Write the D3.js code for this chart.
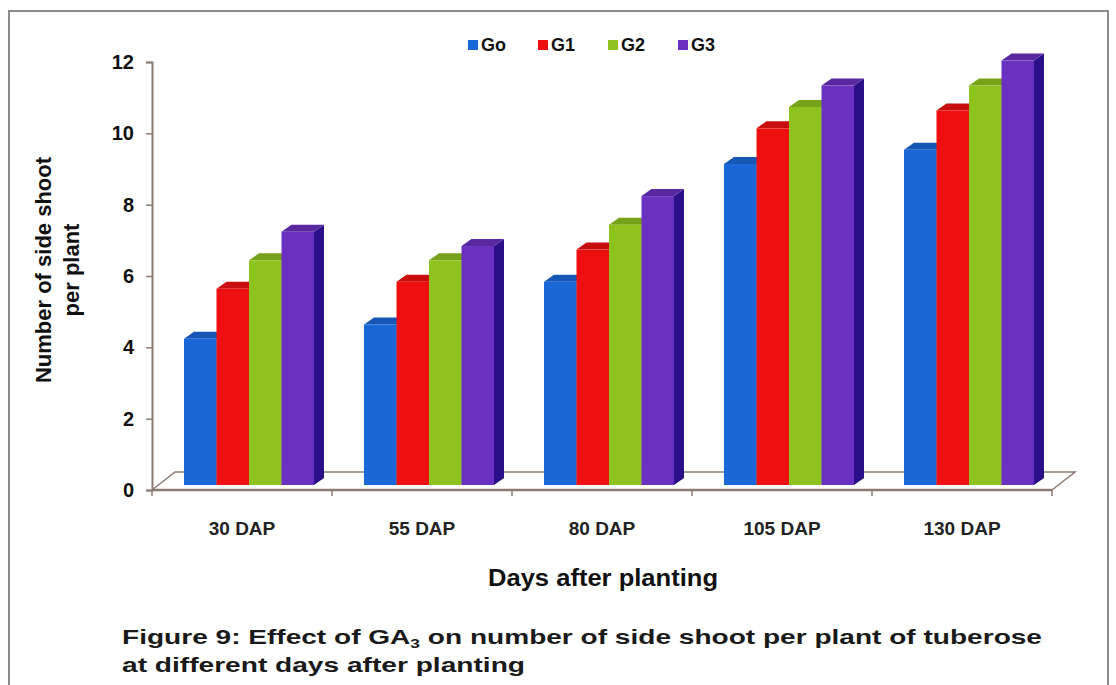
<!DOCTYPE html>
<html>
<head>
<meta charset="utf-8">
<script src="https://cdn.jsdelivr.net/npm/d3@7/dist/d3.min.js"></script>
<style>
  body { margin: 0; background: #fff; }
  text { font-family: "Liberation Sans", Arial, sans-serif; }
</style>
</head>
<body>
<div id="chart"></div>
<script>
// data
const categories = ["30 DAP", "55 DAP", "80 DAP", "105 DAP", "130 DAP"];
const seriesNames = ["Go", "G1", "G2", "G3"];
const goValues = [4.1, 4.5, 5.7, 9.0, 9.4];
const g1Values = [5.5, 5.7, 6.6, 10.0, 10.5];
const g2Values = [6.3, 6.3, 7.3, 10.6, 11.2];
const g3Values = [7.1, 6.7, 8.1, 11.2, 11.9];
const yTicks = [0, 2, 4, 6, 8, 10, 12];
const seriesColors = ["#1a68d8", "#ee1010", "#8dc21f", "#6a30c0"];
const sideColors = ["#0f3f9a", "#9a0808", "#56800e", "#2a0f88"];

const series = [goValues, g1Values, g2Values, g3Values];

const width = 1116, height = 685;
const svg = d3.select("#chart").append("svg")
  .attr("width", width).attr("height", height);

// outer frame
svg.append("rect")
  .attr("x", 9).attr("y", 11)
  .attr("width", 1099).attr("height", 700)
  .attr("fill", "none").attr("stroke", "#8c8c8c").attr("stroke-width", 2);

const x = d3.scaleBand().domain(categories).range([152, 1052]);
const y = d3.scaleLinear().domain([0, 12]).range([490, 62]);
const xs = d3.scaleBand().domain(seriesNames).range([0, 130]);

// 3d offsets
const floorD = [23, -18];
const barFront = [7, -5];
const barD = [10, -7];

const floorCol = "#8b7b72";

// floor
const x0 = x.range()[0], x1 = x.range()[1], yb = y(0);
svg.append("path")
  .attr("d", d3.line()([[x0, yb], [x0 + floorD[0], yb + floorD[1]],
    [x1 + floorD[0], yb + floorD[1]], [x1, yb]]))
  .attr("fill", "#fff").attr("stroke", floorCol).attr("stroke-width", 1.5);
svg.append("line")
  .attr("x1", x0).attr("x2", x1).attr("y1", yb).attr("y2", yb)
  .attr("stroke", floorCol).attr("stroke-width", 2.5);

// category boundary ticks
svg.selectAll(".ctick")
  .data(categories.map(c => x(c)).concat([x1]))
  .join("line")
  .attr("x1", d => d).attr("x2", d => d)
  .attr("y1", yb).attr("y2", yb + 6)
  .attr("stroke", floorCol).attr("stroke-width", 1.5);

// y axis
const yAxis = svg.append("g")
  .attr("transform", `translate(${x0},0)`)
  .call(d3.axisLeft(y).tickValues(yTicks).tickSize(6).tickPadding(12));
yAxis.select(".domain").attr("stroke", floorCol).attr("stroke-width", 2);
yAxis.selectAll(".tick line").attr("stroke", floorCol).attr("stroke-width", 1.5);
yAxis.selectAll(".tick text")
  .attr("font-size", 20).attr("font-weight", "bold").attr("fill", "#111")
  .style("font-family", "'Liberation Sans', Arial, sans-serif");

// x axis labels
const xAxis = svg.append("g")
  .attr("transform", `translate(0,${yb})`)
  .call(d3.axisBottom(x).tickSize(0).tickPadding(32));
xAxis.select(".domain").remove();
xAxis.selectAll(".tick text")
  .attr("font-size", 19).attr("font-weight", "bold").attr("fill", "#222")
  .style("font-family", "'Liberation Sans', Arial, sans-serif");

// bars
const bars = [];
categories.forEach((c, ci) => {
  seriesNames.forEach((s, si) => {
    bars.push({ c, s, v: series[si][ci], color: seriesColors[si], side: sideColors[si] });
  });
});

const barG = svg.append("g");
bars.forEach(b => {
  const bx = x(b.c) + (x.bandwidth() - 130) / 2 + xs(b.s) + barFront[0];
  const bw = xs.bandwidth();
  const top = y(b.v) + barFront[1];
  const base = y(0) + barFront[1];
  const col = d3.color(b.color);
  const g = barG.append("g");
  // side
  g.append("path")
    .attr("d", d3.line()([[bx + bw, top], [bx + bw + barD[0], top + barD[1]],
      [bx + bw + barD[0], base + barD[1]], [bx + bw, base]]))
    .attr("fill", b.side);
  // top
  g.append("path")
    .attr("d", d3.line()([[bx, top], [bx + barD[0], top + barD[1]],
      [bx + bw + barD[0], top + barD[1]], [bx + bw, top]]))
    .attr("fill", col.darker(0.5));
  // front
  g.append("rect")
    .attr("x", bx).attr("y", top)
    .attr("width", bw).attr("height", base - top)
    .attr("fill", b.color);
});

// legend
const legend = svg.append("g").attr("transform", "translate(468,40)");
const li = legend.selectAll("g").data(seriesNames).join("g")
  .attr("transform", (d, i) => `translate(${i * 70},0)`);
li.append("rect")
  .attr("width", 10).attr("height", 10)
  .attr("fill", (d, i) => seriesColors[i]);
li.append("text")
  .attr("x", 13).attr("y", 11)
  .attr("font-size", 18).attr("font-weight", "bold").attr("fill", "#111")
  .text(d => d);

// y title
const yt = svg.append("text")
  .attr("transform", "translate(51,270) rotate(-90)")
  .attr("text-anchor", "middle")
  .attr("font-size", 22).attr("font-weight", "bold").attr("fill", "#111");
yt.append("tspan").attr("x", 0).attr("y", 0).text("Number of side shoot");
yt.append("tspan").attr("x", 0).attr("y", 28).text("per plant");

// x title
svg.append("text")
  .attr("x", 603).attr("y", 586)
  .attr("text-anchor", "middle")
  .attr("font-size", 23).attr("font-weight", "bold").attr("fill", "#111")
  .attr("textLength", 230).attr("lengthAdjust", "spacingAndGlyphs")
  .text("Days after planting");

// caption
const cap = svg.append("text")
  .attr("x", 122).attr("y", 644)
  .attr("font-size", 21).attr("font-weight", "bold").attr("fill", "#1a1a1a")
  .attr("textLength", 920).attr("lengthAdjust", "spacingAndGlyphs");
cap.append("tspan").text("Figure 9: Effect of GA");
cap.append("tspan").attr("font-size", 13).attr("dy", 4).text("3");
cap.append("tspan").attr("dy", -4).text(" on number of side shoot per plant of tuberose");
svg.append("text")
  .attr("x", 122).attr("y", 672)
  .attr("font-size", 21).attr("font-weight", "bold").attr("fill", "#1a1a1a")
  .attr("textLength", 403).attr("lengthAdjust", "spacingAndGlyphs")
  .text("at different days after planting");
</script>
</body>
</html>
